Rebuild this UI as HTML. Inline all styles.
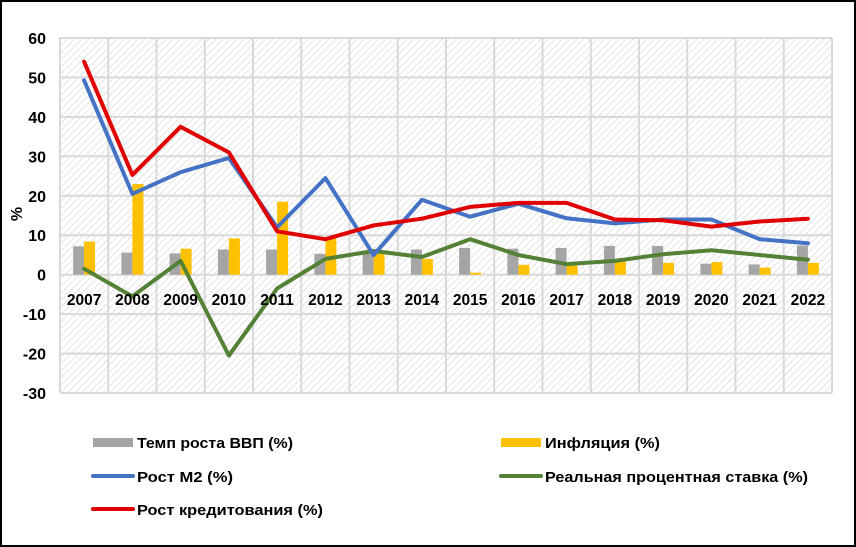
<!DOCTYPE html>
<html><head><meta charset="utf-8"><style>
html,body{margin:0;padding:0;background:#fff}
svg{display:block}
text{font-family:"Liberation Sans",sans-serif;font-weight:bold;fill:#000}
</style></head><body>
<svg width="856" height="547" viewBox="0 0 856 547" xmlns="http://www.w3.org/2000/svg">
<defs>
<pattern id="h" width="5" height="5" patternUnits="userSpaceOnUse" patternTransform="rotate(45)">
<rect width="5" height="5" fill="#fff"/>
<line x1="0" y1="0" x2="0" y2="5" stroke="#d6d6d6" stroke-width="1.3"/>
</pattern>
</defs>
<rect x="1" y="1" width="854" height="545" fill="#fff" stroke="#000" stroke-width="2"/>
<rect x="60" y="38" width="772" height="355" fill="url(#h)"/>
<g stroke="#d9d9d9" stroke-width="2" fill="none">
<path d="M60 38H832M60 77.4H832M60 116.9H832M60 156.3H832M60 195.8H832M60 235.2H832M60 274.7H832M60 314.1H832M60 353.6H832M60 393H832"/>
<path d="M60 38V393M108.25 38V393M156.5 38V393M204.75 38V393M253 38V393M301.25 38V393M349.5 38V393M397.75 38V393M446 38V393M494.25 38V393M542.5 38V393M590.75 38V393M639 38V393M687.25 38V393M735.5 38V393M783.75 38V393M832 38V393"/>
</g>
<g fill="#a5a5a5">
<rect x="73.1" y="246.3" width="11" height="28.4"/>
<rect x="121.4" y="252.6" width="11" height="22.1"/>
<rect x="169.6" y="253.4" width="11" height="21.3"/>
<rect x="217.9" y="249.5" width="11" height="25.2"/>
<rect x="266.1" y="249.5" width="11" height="25.2"/>
<rect x="314.4" y="253.8" width="11" height="20.9"/>
<rect x="362.6" y="250.6" width="11" height="24.1"/>
<rect x="410.9" y="249.5" width="11" height="25.2"/>
<rect x="459.1" y="247.9" width="11" height="26.8"/>
<rect x="507.4" y="248.7" width="11" height="26"/>
<rect x="555.6" y="247.9" width="11" height="26.8"/>
<rect x="603.9" y="245.9" width="11" height="28.8"/>
<rect x="652.1" y="245.9" width="11" height="28.8"/>
<rect x="700.4" y="263.7" width="11" height="11"/>
<rect x="748.6" y="264.4" width="11" height="10.3"/>
<rect x="796.9" y="245.5" width="11" height="29.2"/>
</g>
<g fill="#ffc000">
<rect x="84.1" y="241.6" width="11" height="33.1"/>
<rect x="132.4" y="184" width="11" height="90.7"/>
<rect x="180.6" y="248.7" width="11" height="26"/>
<rect x="228.9" y="238.4" width="11" height="36.3"/>
<rect x="277.1" y="201.7" width="11" height="73"/>
<rect x="325.4" y="237.2" width="11" height="37.5"/>
<rect x="373.6" y="253" width="11" height="21.7"/>
<rect x="421.9" y="258.9" width="11" height="15.8"/>
<rect x="470.1" y="272.7" width="11" height="2"/>
<rect x="518.4" y="264.8" width="11" height="9.9"/>
<rect x="566.6" y="265.6" width="11" height="9.1"/>
<rect x="614.9" y="260.9" width="11" height="13.8"/>
<rect x="663.1" y="262.9" width="11" height="11.8"/>
<rect x="711.4" y="262.1" width="11" height="12.6"/>
<rect x="759.6" y="267.6" width="11" height="7.1"/>
<rect x="807.9" y="262.9" width="11" height="11.8"/>
</g>
<g fill="none" stroke-width="4" stroke-linejoin="round" stroke-linecap="round">
<polyline stroke="#538135" points="84.1,268.8 132.4,296.4 180.6,260.9 228.9,355.6 277.1,288.5 325.4,258.9 373.6,251 421.9,257 470.1,239.2 518.4,255 566.6,264.1 614.9,260.9 663.1,254.2 711.4,250.2 759.6,255 807.9,259.7"/>
<polyline stroke="#4472c4" points="84.1,80.3 132.4,193.9 180.6,172.2 228.9,158 277.1,227.4 325.4,178.1 373.6,255 421.9,199.8 470.1,216.7 518.4,203.7 566.6,218.3 614.9,223.4 663.1,219.5 711.4,219.5 759.6,239.2 807.9,243.2"/>
<polyline stroke="#e00000" points="84.1,61.7 132.4,174.9 180.6,126.8 228.9,152.4 277.1,231.3 325.4,239.2 373.6,225.4 421.9,218.7 470.1,206.9 518.4,202.9 566.6,202.9 614.9,219.5 663.1,220.3 711.4,226.6 759.6,221.5 807.9,218.7"/>
</g>
<g font-size="16" text-anchor="end">
<text x="46" y="44">60</text>
<text x="46" y="83.4">50</text>
<text x="46" y="122.9">40</text>
<text x="46" y="162.3">30</text>
<text x="46" y="201.8">20</text>
<text x="46" y="241.2">10</text>
<text x="46" y="280.7">0</text>
<text x="46" y="320.1">-10</text>
<text x="46" y="359.6">-20</text>
<text x="46" y="399">-30</text>
</g>
<text font-size="16" transform="translate(22,214) rotate(-90)" text-anchor="middle">%</text>
<g font-size="15.5" text-anchor="middle">
<text x="84.1" y="305">2007</text><text x="132.4" y="305">2008</text><text x="180.6" y="305">2009</text><text x="228.9" y="305">2010</text>
<text x="277.1" y="305">2011</text><text x="325.4" y="305">2012</text><text x="373.6" y="305">2013</text><text x="421.9" y="305">2014</text>
<text x="470.1" y="305">2015</text><text x="518.4" y="305">2016</text><text x="566.6" y="305">2017</text><text x="614.9" y="305">2018</text>
<text x="663.1" y="305">2019</text><text x="711.4" y="305">2020</text><text x="759.6" y="305">2021</text><text x="807.9" y="305">2022</text>
</g>
<rect x="93" y="438" width="40" height="9" fill="#a5a5a5"/>
<line x1="93" y1="476" x2="133" y2="476" stroke="#4472c4" stroke-width="4" stroke-linecap="round"/>
<line x1="93" y1="509" x2="133" y2="509" stroke="#e00000" stroke-width="4" stroke-linecap="round"/>
<rect x="501" y="438" width="40" height="9" fill="#ffc000"/>
<line x1="501" y1="476" x2="541" y2="476" stroke="#538135" stroke-width="4" stroke-linecap="round"/>
<g font-size="15">
<text x="137" y="448" textLength="156" lengthAdjust="spacingAndGlyphs">Темп роста ВВП (%)</text>
<text x="137" y="482" textLength="96" lengthAdjust="spacingAndGlyphs">Рост M2 (%)</text>
<text x="137" y="515" textLength="186" lengthAdjust="spacingAndGlyphs">Рост кредитования (%)</text>
<text x="545" y="448" textLength="115" lengthAdjust="spacingAndGlyphs">Инфляция (%)</text>
<text x="545" y="482" textLength="263" lengthAdjust="spacingAndGlyphs">Реальная процентная ставка (%)</text>
</g>
</svg>
</body></html>
